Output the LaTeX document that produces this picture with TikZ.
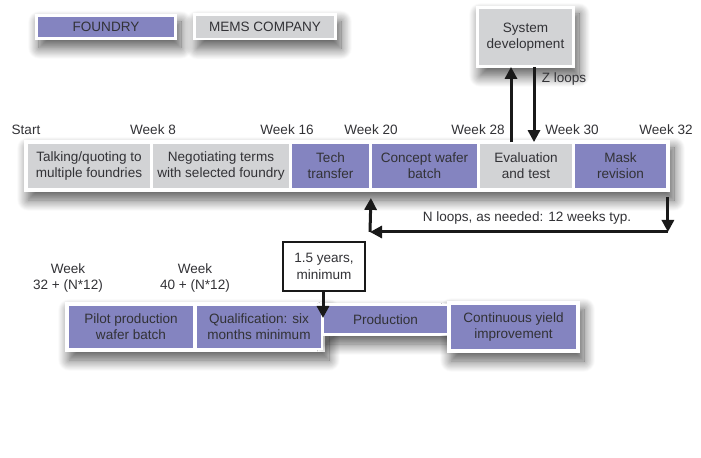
\documentclass[tikz,border=0pt]{standalone}
\usepackage{fontspec}
\setmainfont{Liberation Sans}
\usetikzlibrary{arrows.meta,shadows.blur}
\definecolor{foundry}{RGB}{132,132,192}
\definecolor{mems}{RGB}{210,211,213}
\definecolor{ink}{RGB}{50,50,54}
\tikzset{
  lbl/.style={text=ink, font=\fontsize{13.6}{16.3}\selectfont, align=center, inner sep=0pt},
  stage/.style={lbl, draw=white, line width=1.8bp, minimum height=46bp},
  fstage/.style={stage, fill=foundry},
  mstage/.style={stage, fill=mems},
  backing/.style={fill=white, draw=none,
    blur shadow={shadow xshift=4bp, shadow yshift=-8bp, shadow blur radius=11bp, shadow blur steps=16, shadow opacity=65}},
  arr/.style={line width=3bp, draw=black!90, -{Triangle[length=12bp,width=12bp]}},
}
\begin{document}
\begin{tikzpicture}[x=1bp, y=-1bp]
\useasboundingbox (0,0) rectangle (701,458);

% legend
\node[backing, minimum width=142bp, minimum height=26bp] at (106,27) {};
\node[backing, minimum width=144bp, minimum height=27bp] at (265,27) {};
\node[fstage, minimum width=138bp, minimum height=22bp] (legF) at (106,27) {FOUNDRY};
\node[mstage, minimum width=140bp, minimum height=23bp] (legM) at (265,27) {MEMS COMPANY};

% system development box
\node[backing, minimum width=99bp, minimum height=62bp] at (525.5,37) {};
\node[mstage, minimum width=95bp, minimum height=58bp] (sys) at (525.5,37) {System\\development};

% first row of stages
\fill[backing] (24,140) rectangle (670,192);
\node[mstage, minimum width=124bp] (talk) at (89,166) {Talking/quoting to\\multiple foundries};
\node[mstage, minimum width=138bp] (nego) at (221,166) {Negotiating terms\\with selected foundry};
\node[fstage, minimum width=79bp] (tech) at (330.5,166) {Tech\\transfer};
\node[fstage, minimum width=107bp] (concept) at (424.5,166) {Concept wafer\\batch};
\node[mstage, minimum width=94bp] (eval) at (526,166) {Evaluation\\and test};
\node[fstage, minimum width=93bp] (mask) at (620.5,166) {Mask\\revision};

% week markers
\node[lbl] (wS) at (26,130) {Start};
\node[lbl] (w8) at (153,130) {Week 8};
\node[lbl] (w16) at (287,130) {Week 16};
\node[lbl] (w20) at (371,130) {Week 20};
\node[lbl] (w28) at (478,130) {Week 28};
\node[lbl] (w30) at (572,130) {Week 30};
\node[lbl] (w32) at (666,130) {Week 32};

% Z loops between evaluation and system development
\draw[arr] (eval.north -| 511,0) -- (sys.south -| 511,0);
\draw[arr] (sys.south -| 534,0) -- (eval.north -| 534,0);
\node[lbl] (zl) at (564,79) {Z loops};

% N loops back to the concept wafer batch
\coordinate (nl) at (370,232);
\draw[arr] ([yshift=-7bp]mask.south east) -- (mask.south east |- nl);
\draw[arr] (mask.south east |- nl) -- (nl);
\draw[arr] (nl) -- ([yshift=-8bp]tech.south east);
\node[lbl] (nlt) at (527,218) {N loops, as needed: 12 weeks typ.};

% second row of stages
\node[lbl] (wa) at (68,278) {Week\\32 + (N*12)};
\node[lbl] (wb) at (195,278) {Week\\40 + (N*12)};

\fill[backing] (65,302) rectangle (325,352);
\fill[backing] (322,303) rectangle (450,336);
\fill[backing] (447,301) rectangle (580,353);
\node[fstage, minimum width=126bp, minimum height=44bp] (pilot) at (131,327) {Pilot production\\wafer batch};
\node[fstage, minimum width=126bp, minimum height=44bp] (qual) at (259,327) {Qualification: six\\months minimum};
\node[fstage, minimum width=125bp, minimum height=29bp] (prod) at (385.5,319.5) {Production};
\node[fstage, minimum width=127bp, minimum height=46bp] (yield) at (513.5,327) {Continuous yield\\improvement};

% minimum duration note
\node[lbl, draw=black!90, line width=2.4bp, fill=white, minimum width=82bp, minimum height=49bp] (note) at (324,266.5) {1.5 years,\\minimum};
\coordinate (noteend) at (323,318);
\draw[arr] (note.south -| noteend) -- (noteend);
\end{tikzpicture}
\end{document}
